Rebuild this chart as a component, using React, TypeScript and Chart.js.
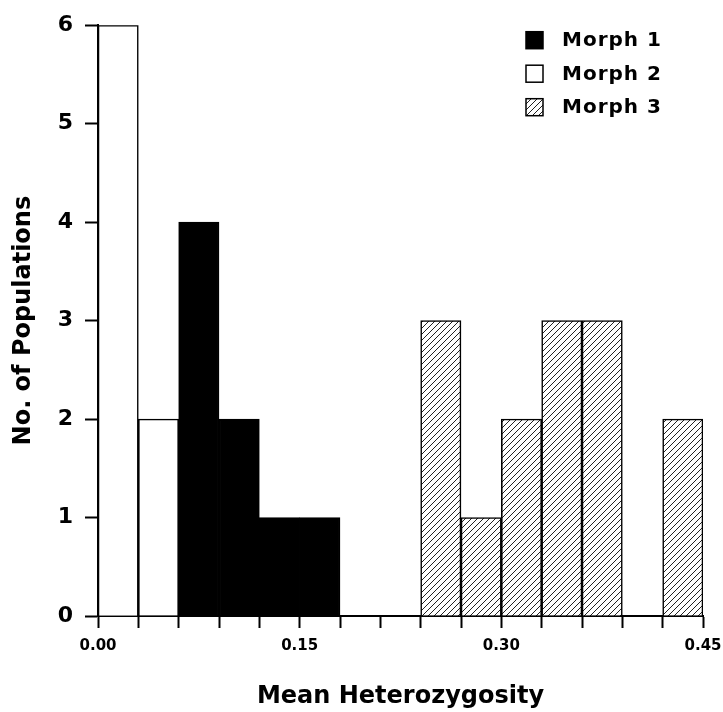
import React, { useEffect, useRef } from 'react';
import { Chart, registerables } from 'chart.js';

Chart.register(...registerables);

// ---- data ----
const binLabels = [
  '0.00–0.03', '0.03–0.06', '0.06–0.09', '0.09–0.12', '0.12–0.15',
  '0.15–0.18', '0.18–0.21', '0.21–0.24', '0.24–0.27', '0.27–0.30',
  '0.30–0.33', '0.33–0.36', '0.36–0.39', '0.39–0.42', '0.42–0.45',
];
const binWidth = 0.03;
const xMin = 0;
const xMax = 0.45;
const xTickLabels = ['0.00', '0.15', '0.30', '0.45'];
const yMin = 0;
const yMax = 6;
const yStep = 1;

const morph1 = [null, null, 4, 2, 1, 1, null, null, null, null, null, null, null, null, null];
const morph2 = [6, 2, null, null, null, null, null, null, null, null, null, null, null, null, null];
const morph3 = [null, null, null, null, null, null, null, null, 3, 1, 2, 3, 3, null, 2];
const seriesNames = ['Morph 1', 'Morph 2', 'Morph 3'];

const xTitle = 'Mean Heterozygosity';
const yTitle = 'No. of Populations';

const FONT = "'DejaVu Sans', 'Liberation Sans', sans-serif";

function makeHatch(): CanvasPattern | string {
  const s = 6;
  const c = document.createElement('canvas');
  c.width = s;
  c.height = s;
  const g = c.getContext('2d');
  if (!g) return '#fff';
  g.fillStyle = '#fff';
  g.fillRect(0, 0, s, s);
  g.strokeStyle = '#222';
  g.lineWidth = 1;
  g.beginPath();
  g.moveTo(0, s);
  g.lineTo(s, 0);
  g.moveTo(-1, 1);
  g.lineTo(1, -1);
  g.moveTo(s - 1, s + 1);
  g.lineTo(s + 1, s - 1);
  g.stroke();
  const p = g.createPattern(c, 'repeat');
  return p || '#fff';
}

const legendPlugin = {
  id: 'morphLegend',
  afterDraw(chart: any) {
    const { ctx, chartArea } = chart;
    const boxSize = 17;
    const x0 = chartArea.right - 177;
    const y0 = chartArea.top + 15;
    const rowH = 33.5;
    ctx.save();
    chart.data.datasets.forEach((ds: any, i: number) => {
      const yc = y0 + i * rowH;
      ctx.fillStyle = ds.backgroundColor;
      ctx.fillRect(x0, yc - boxSize / 2, boxSize, boxSize);
      ctx.strokeStyle = '#000';
      ctx.lineWidth = 1.5;
      ctx.strokeRect(x0, yc - boxSize / 2, boxSize, boxSize);
      ctx.fillStyle = '#000';
      ctx.font = `bold 20px ${FONT}`;
      ctx.textBaseline = 'middle';
      ctx.textAlign = 'left';
      try { (ctx as any).letterSpacing = '1px'; } catch (e) { /* ignore */ }
      ctx.fillText(ds.label, x0 + 36, yc + 1);
    });
    ctx.restore();
  },
};

export default function App() {
  const ref = useRef<HTMLCanvasElement | null>(null);

  useEffect(() => {
    document.body.style.margin = '0';
    const canvas = ref.current;
    if (!canvas) return;
    const hatch = makeHatch();

    const common = {
      borderColor: '#000',
      borderWidth: 1.6,
      barPercentage: 1,
      categoryPercentage: 1,
      grouped: false,
      xAxisID: 'x',
      yAxisID: 'y',
    };

    const chart = new Chart(canvas, {
      type: 'bar',
      data: {
        labels: binLabels,
        datasets: [
          { ...common, label: seriesNames[0], data: morph1, backgroundColor: '#000' },
          { ...common, label: seriesNames[1], data: morph2, backgroundColor: '#fff' },
          { ...common, label: seriesNames[2], data: morph3, backgroundColor: hatch as any },
        ],
      },
      options: {
        responsive: false,
        animation: false,
        events: [],
        layout: { padding: { left: 0, top: 13, right: 20, bottom: 0 } },
        plugins: {
          legend: { display: false },
          tooltip: { enabled: false },
        },
        scales: {
          x: {
            type: 'category',
            display: false,
            offset: true,
          },
          xTicks: {
            type: 'linear',
            axis: 'x',
            position: 'bottom',
            min: xMin,
            max: xMax,
            offset: false,
            z: 1,
            afterFit: (scale: any) => {
              scale.height = 96;
              scale.paddingLeft = 0;
              scale.paddingRight = 0;
            },
            ticks: {
              stepSize: binWidth,
              autoSkip: false,
              maxRotation: 0,
              minRotation: 0,
              padding: 9,
              color: '#000',
              font: { family: FONT, size: 15, weight: 'bold' },
              callback: (v: any) => {
                const s = Number(v).toFixed(2);
                return xTickLabels.includes(s) ? s : '';
              },
            },
            grid: {
              display: true,
              offset: false,
              drawOnChartArea: false,
              drawTicks: true,
              tickLength: 12,
              tickWidth: 2,
              tickColor: '#000',
              color: '#000',
            },
            border: { display: true, color: '#000', width: 2 },
            title: {
              display: true,
              text: xTitle,
              color: '#000',
              font: { family: FONT, size: 24, weight: 'bold' },
              padding: { top: 0, bottom: 1 },
            },
          },
          y: {
            type: 'linear',
            position: 'left',
            min: yMin,
            max: yMax,
            z: 1,
            afterFit: (scale: any) => { scale.width = 98; },
            ticks: {
              stepSize: yStep,
              padding: 12,
              color: '#000',
              font: { family: FONT, size: 22, weight: 'bold' },
            },
            grid: {
              display: true,
              drawOnChartArea: false,
              drawTicks: true,
              tickLength: 13,
              tickWidth: 2,
              tickColor: '#000',
              color: '#000',
            },
            border: { display: true, color: '#000', width: 2 },
            title: {
              display: true,
              text: yTitle,
              color: '#000',
              font: { family: FONT, size: 24, weight: 'bold' },
              padding: { top: 9, bottom: 0 },
            },
          },
        },
      } as any,
      plugins: [legendPlugin],
    });

    return () => chart.destroy();
  }, []);

  return (
    <div style={{ width: 723, height: 712, background: '#fff' }}>
      <canvas ref={ref} width={723} height={712} style={{ display: 'block' }} />
    </div>
  );
}
